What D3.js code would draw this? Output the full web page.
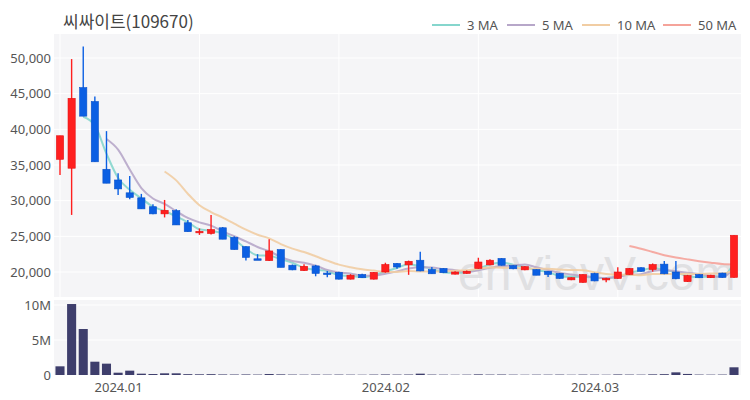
<!DOCTYPE html>
<html>
<head>
<meta charset="utf-8">
<script src="https://cdn.jsdelivr.net/npm/d3@7"></script>
<style>
  body { margin: 0; background: #fff; }
  text { font-family: "Noto Sans", "Noto Sans CJK KR", sans-serif; }
</style>
</head>
<body>
<div id="chart"></div>
<script>
const DATES = [
  "2023-12-21", "2023-12-22", "2023-12-26", "2023-12-27", "2023-12-28",
  "2024-01-02", "2024-01-03", "2024-01-04", "2024-01-05", "2024-01-08",
  "2024-01-09", "2024-01-10", "2024-01-11", "2024-01-12", "2024-01-15",
  "2024-01-16", "2024-01-17", "2024-01-18", "2024-01-19", "2024-01-22",
  "2024-01-23", "2024-01-24", "2024-01-25", "2024-01-26", "2024-01-29",
  "2024-01-30", "2024-01-31", "2024-02-01", "2024-02-02", "2024-02-05",
  "2024-02-06", "2024-02-07", "2024-02-08", "2024-02-13", "2024-02-14",
  "2024-02-15", "2024-02-16", "2024-02-19", "2024-02-20", "2024-02-21",
  "2024-02-22", "2024-02-23", "2024-02-26", "2024-02-27", "2024-02-28",
  "2024-02-29", "2024-03-04", "2024-03-05", "2024-03-06", "2024-03-07",
  "2024-03-08", "2024-03-11", "2024-03-12", "2024-03-13", "2024-03-14",
  "2024-03-15", "2024-03-18", "2024-03-19", "2024-03-20"
];

const OPEN = [
  35800, 34550, 45850, 43900, 34400, 32900, 31100, 30400, 29150, 28150,
  28600, 26900, 25600, 25400, 26200, 24850, 23550, 21850, 21600, 23150,
  20950, 20200, 20850, 19850, 19950, 19000, 19650, 19000, 20000, 21200,
  21000, 21650, 20350, 20500, 19700, 19800, 20500, 21000, 21900, 20900,
  20300, 20350, 20100, 19800, 18900, 18550, 19800, 19050, 19100, 19650,
  20600, 20350, 21100, 20000, 18650, 19650, 19200, 19850, 19250
];
const HIGH = [
  39100, 49850, 51600, 44600, 39750, 33850, 33450, 30950, 29500, 30100,
  28800, 27300, 26100, 28000, 26300, 25000, 23600, 22500, 24600, 23200,
  21050, 21100, 21000, 20150, 20050, 19700, 19750, 20000, 21300, 21250,
  21600, 22850, 20700, 20550, 20100, 20200, 22000, 21800, 21950, 20950,
  20800, 20400, 20150, 19850, 19250, 19700, 19900, 19200, 20650, 20550,
  20650, 21200, 21550, 21550, 19600, 19700, 19600, 19900, 25150
];
const LOW = [
  33600, 28000, 41850, 35450, 32450, 30800, 30200, 28850, 28100, 27650,
  26600, 25650, 25200, 25250, 24600, 23150, 21600, 21800, 21550, 20650,
  20250, 20150, 19400, 19250, 18950, 18950, 19150, 18950, 19900, 20450,
  19600, 20100, 19750, 19850, 19650, 19750, 20450, 20950, 20900, 20400,
  20250, 19550, 19300, 19050, 18850, 18500, 18700, 18550, 19050, 19600,
  20050, 20050, 19700, 19000, 18600, 19150, 19150, 19200, 19200
];
const CLOSE = [
  39100, 44350, 41850, 35450, 32450, 31650, 30450, 28850, 28150, 28650,
  26600, 25650, 25700, 25950, 24600, 23150, 22050, 21800, 22950, 20650,
  20300, 20800, 19800, 19800, 19000, 19550, 19200, 19950, 21050, 20700,
  21500, 20150, 19750, 19900, 20000, 20100, 21400, 21650, 20950, 20450,
  20750, 19550, 19650, 19100, 19200, 19650, 18750, 19100, 20000, 20500,
  20100, 21050, 19750, 19050, 19500, 19200, 19550, 19250, 25150
];
const VOLUME = [
  1240000, 10140000, 6570000, 1900000, 1620000, 330000, 620000, 190000, 140000, 240000,
  240000, 120000, 100000, 120000, 80000, 70000, 80000, 60000, 140000, 90000,
  60000, 50000, 60000, 50000, 60000, 50000, 40000, 60000, 80000, 60000,
  70000, 190000, 60000, 50000, 40000, 50000, 90000, 60000, 70000, 50000,
  40000, 50000, 50000, 60000, 40000, 60000, 50000, 40000, 80000, 60000,
  50000, 90000, 120000, 380000, 150000, 60000, 50000, 60000, 1100000
];

const MA_PERIODS = [3, 5, 10, 50];
const MA_LABELS = ["3 MA", "5 MA", "10 MA", "50 MA"];
const MA_COLORS = ["#86d6cd", "#b7a7c9", "#f1cda3", "#f5a39a"];

const PRICE_TICKS = [20000, 25000, 30000, 35000, 40000, 45000, 50000];
const VOLUME_TICKS = [0, 5000000, 10000000];
const X_TICK_DATES = ["2024-01-02", "2024-02-02", "2024-03-04"];
const X_TICK_LABELS = ["2024.01", "2024.02", "2024.03"];

const TITLE = "씨싸이트(109670)";
const WATERMARK = "enVievV.com";

const WIDTH = 750;
const HEIGHT = 400;
const LEFT = 54;
const RIGHT = 741;
const PRICE_TOP = 34;
const PRICE_BOTTOM = 297;
const VOL_TOP = 300;
const VOL_BOTTOM = 375;
const UP = "#ff1f1f";
const DOWN = "#0b5fe3";
const PANEL_BG = "#f5f5f7";

const svg = d3.select("#chart").append("svg")
    .attr("width", WIDTH)
    .attr("height", HEIGHT);

const x = d3.scalePoint()
    .domain(DATES)
    .range([60, 734]);
const step = x.step();

const y = d3.scaleLinear()
    .domain([20000, 50000])
    .range([272, 58]);

const yv = d3.scaleLinear()
    .domain([0, 10000000])
    .range([VOL_BOTTOM, 305]);

const candles = DATES.map((d, i) => ({
  date: d, open: OPEN[i], high: HIGH[i], low: LOW[i], close: CLOSE[i], volume: VOLUME[i]
}));

// panels
svg.append("rect")
    .attr("x", LEFT).attr("y", PRICE_TOP)
    .attr("width", RIGHT - LEFT).attr("height", PRICE_BOTTOM - PRICE_TOP)
    .attr("fill", PANEL_BG);
svg.append("rect")
    .attr("x", LEFT).attr("y", VOL_TOP)
    .attr("width", RIGHT - LEFT).attr("height", VOL_BOTTOM - VOL_TOP)
    .attr("fill", PANEL_BG);

svg.append("clipPath").attr("id", "price-clip")
  .append("rect")
    .attr("x", LEFT).attr("y", PRICE_TOP)
    .attr("width", RIGHT - LEFT).attr("height", PRICE_BOTTOM - PRICE_TOP);

// grid
svg.append("g")
  .selectAll("line")
  .data(PRICE_TICKS)
  .enter().append("line")
    .attr("x1", LEFT).attr("x2", RIGHT)
    .attr("y1", d => y(d)).attr("y2", d => y(d))
    .attr("stroke", "#fff")
    .attr("stroke-width", 1);

svg.append("g")
  .selectAll("line")
  .data(DATES.filter((d, i) => i % 12 === 0))
  .enter().append("line")
    .attr("x1", d => x(d)).attr("x2", d => x(d))
    .attr("y1", PRICE_TOP).attr("y2", PRICE_BOTTOM)
    .attr("stroke", "#fff")
    .attr("stroke-width", 1);

svg.append("g")
  .selectAll("line")
  .data(VOLUME_TICKS.slice(1))
  .enter().append("line")
    .attr("x1", LEFT).attr("x2", RIGHT)
    .attr("y1", d => yv(d)).attr("y2", d => yv(d))
    .attr("stroke", "#fff")
    .attr("stroke-width", 1);

// watermark
svg.append("text")
    .attr("x", 458)
    .attr("y", 290)
    .attr("font-size", 48)
    .attr("fill", "#d9d9dc")
    .attr("opacity", 0.75)
    .style("font-family", "'Liberation Sans', sans-serif")
    .text(WATERMARK);

// moving averages
const maGroup = svg.append("g").attr("clip-path", "url(#price-clip)");
MA_PERIODS.forEach((p, k) => {
  const ma = CLOSE.map((c, i) => i < p - 1 ? null : d3.mean(CLOSE.slice(i - p + 1, i + 1)));
  const line = d3.line()
      .defined(d => d != null)
      .x((d, i) => x(DATES[i]))
      .y(d => y(d))
      .curve(d3.curveMonotoneX);
  maGroup.append("path")
      .datum(ma)
      .attr("d", line)
      .attr("fill", "none")
      .attr("stroke", MA_COLORS[k])
      .attr("stroke-width", 2)
      .attr("opacity", 0.9);
});

// candles
const candle = svg.append("g")
    .attr("clip-path", "url(#price-clip)")
  .selectAll("g")
  .data(candles)
  .enter().append("g");

candle.append("line")
    .attr("x1", d => x(d.date)).attr("x2", d => x(d.date))
    .attr("y1", d => y(d.high)).attr("y2", d => y(d.low))
    .attr("stroke", d => d.close >= d.open ? UP : DOWN)
    .attr("stroke-width", 1.4);

const bodyW = step * 0.62;
candle.append("rect")
    .attr("x", d => x(d.date) - bodyW / 2)
    .attr("y", d => y(Math.max(d.open, d.close)))
    .attr("width", bodyW)
    .attr("height", d => Math.max(1.5, Math.abs(y(d.open) - y(d.close))))
    .attr("fill", d => d.close >= d.open ? UP : DOWN)
    .attr("stroke", d => d.close >= d.open ? "#e51212" : "#0a52c8")
    .attr("stroke-width", 0.6);

// volume
const volW = step * 0.78;
svg.append("g")
  .selectAll("rect")
  .data(candles)
  .enter().append("rect")
    .attr("x", d => x(d.date) - volW / 2)
    .attr("y", d => yv(d.volume))
    .attr("width", volW)
    .attr("height", d => VOL_BOTTOM - yv(d.volume))
    .attr("fill", "#3e3e6c");

// axes
const yAxis = svg.append("g")
    .attr("transform", `translate(${LEFT - 1},0)`)
    .call(d3.axisLeft(y).tickValues(PRICE_TICKS).tickFormat(d3.format(",")).tickSize(0).tickPadding(2));
const vAxis = svg.append("g")
    .attr("transform", `translate(${LEFT - 1},0)`)
    .call(d3.axisLeft(yv).tickValues(VOLUME_TICKS)
      .tickFormat(d => d === 0 ? "0" : d / 1000000 + "M").tickSize(0).tickPadding(2));
const xAxis = svg.append("g")
    .attr("transform", `translate(0,${VOL_BOTTOM + 2})`)
    .call(d3.axisBottom(x).tickValues(X_TICK_DATES)
      .tickFormat((d, i) => X_TICK_LABELS[i]).tickSize(0).tickPadding(6));

[yAxis, vAxis, xAxis].forEach(a => {
  a.select(".domain").remove();
  a.selectAll("text")
      .attr("font-size", 13)
      .attr("fill", "#555")
      .style("font-family", "'Noto Sans', sans-serif");
});

// title
svg.append("text")
    .attr("x", 63)
    .attr("y", 28)
    .attr("font-size", 17)
    .attr("fill", "#444")
    .style("font-family", "'Noto Sans CJK KR', sans-serif")
    .text(TITLE);

// legend
const LEGEND_X = [432, 507, 582, 663];
const legend = svg.append("g")
  .selectAll("g")
  .data(MA_LABELS)
  .enter().append("g")
    .attr("transform", (d, i) => `translate(${LEGEND_X[i]},25)`);

legend.append("line")
    .attr("x1", 0).attr("x2", 28)
    .attr("stroke", (d, i) => MA_COLORS[i])
    .attr("stroke-width", 2);

legend.append("text")
    .text(d => d)
    .attr("x", 35)
    .attr("dy", "0.35em")
    .attr("font-size", 13)
    .attr("fill", "#555");
</script>
</body>
</html>
